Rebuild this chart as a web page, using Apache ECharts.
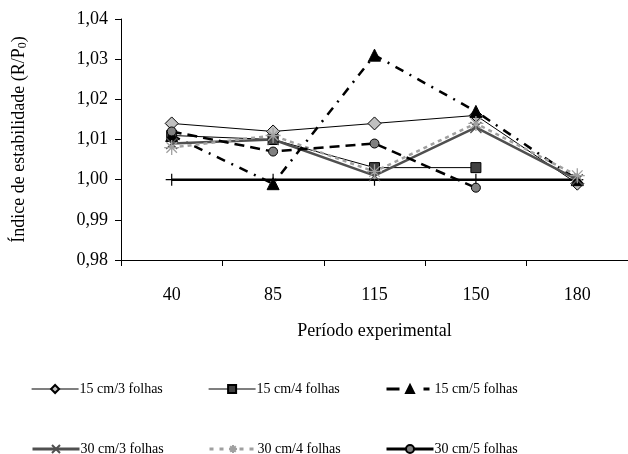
<!DOCTYPE html>
<html>
<head>
<meta charset="utf-8">
<script src="https://cdn.jsdelivr.net/npm/echarts@6/dist/echarts.min.js"></script>
<style>html,body{margin:0;padding:0;background:#fff}#c{width:628px;height:454px}</style>
</head>
<body>
<div id="c"></div>
<script>
const categories = ['40', '85', '115', '150', '180'];
const yTicks = [0.98, 0.99, 1.00, 1.01, 1.02, 1.03, 1.04];
const s15_3 = [1.014, 1.012, 1.014, 1.016, 0.999];
const s15_4 = [1.011, 1.010, 1.003, 1.003, null];
const s15_5 = [1.011, 0.999, 1.031, 1.017, 1.000];
const s30_3 = [1.009, 1.010, 1.001, 1.013, 1.000];
const s30_4 = [1.008, 1.011, 1.002, 1.014, 1.001];
const s30_5 = [1.012, 1.007, 1.009, 0.998, null];
const ref100 = [1.000, 1.000, 1.000, 1.000, 1.000];

const FONT = '"Liberation Serif", "Times New Roman", serif';
const crossPath = 'path://M0,0L10,10M10,0L0,10';
const starPath = 'path://M5,0L5,10M0,5L10,5M1.5,1.5L8.5,8.5M8.5,1.5L1.5,8.5';
const plusPath = 'path://M5,0L5,10M0,5L10,5';

const styles = {
  '15 cm/3 folhas': {
    symbol: 'diamond', symbolSize: 13,
    lineStyle: {color: '#000', width: 1},
    itemStyle: {color: '#c0c0c0', borderColor: '#000', borderWidth: 1},
    legLine: {color: '#000', width: 1.2, type: 'solid'}
  },
  '15 cm/4 folhas': {
    symbol: 'rect', symbolSize: 10,
    lineStyle: {color: '#000', width: 1},
    itemStyle: {color: '#404040', borderColor: '#000', borderWidth: 1},
    legLine: {color: '#000', width: 1.2, type: 'solid'}
  },
  '15 cm/5 folhas': {
    symbol: 'triangle', symbolSize: 12,
    lineStyle: {color: '#000', width: 2.5, type: [9, 7, 2, 7]},
    itemStyle: {color: '#000', borderColor: '#000', borderWidth: 1},
    legLine: {color: '#000', width: 3, type: [13, 24, 6, 10]}
  },
  '30 cm/3 folhas': {
    symbol: crossPath, symbolSize: 11,
    lineStyle: {color: '#505050', width: 2.5},
    itemStyle: {color: '#505050', borderColor: '#505050', borderWidth: 1.3},
    legLine: {color: '#505050', width: 3, type: 'solid'}
  },
  '30 cm/4 folhas': {
    symbol: starPath, symbolSize: 15,
    lineStyle: {color: '#a0a0a0', width: 2.5, type: [4, 4]},
    itemStyle: {color: '#a0a0a0', borderColor: '#a0a0a0', borderWidth: 1.3},
    legLine: {color: '#a0a0a0', width: 3, type: [4, 6]}
  },
  '30 cm/5 folhas': {
    symbol: 'circle', symbolSize: 9,
    lineStyle: {color: '#000', width: 2.5, type: [10, 6]},
    itemStyle: {color: '#808080', borderColor: '#000', borderWidth: 1},
    legLine: {color: '#000', width: 3, type: 'solid'}
  }
};
const dataByName = {
  '15 cm/3 folhas': s15_3, '15 cm/4 folhas': s15_4, '15 cm/5 folhas': s15_5,
  '30 cm/3 folhas': s30_3, '30 cm/4 folhas': s30_4, '30 cm/5 folhas': s30_5
};

const series = [{
  name: 'ref', type: 'line', data: ref100, z: 2,
  symbol: plusPath, symbolSize: 12,
  lineStyle: {color: '#000', width: 2.5},
  itemStyle: {color: '#000', borderColor: '#000', borderWidth: 1.2}
}];
Object.keys(dataByName).forEach(n => {
  const st = styles[n];
  series.push({
    name: n, type: 'line', data: dataByName[n], z: 3, connectNulls: false,
    symbol: st.symbol, symbolSize: st.symbolSize,
    lineStyle: st.lineStyle, itemStyle: st.itemStyle
  });
});

const legendPos = [
  ['15 cm/3 folhas', 31, 382],
  ['15 cm/4 folhas', 208, 382],
  ['15 cm/5 folhas', 385, 382],
  ['30 cm/3 folhas', 31, 442],
  ['30 cm/4 folhas', 208, 442],
  ['30 cm/5 folhas', 385, 442]
];
const legends = legendPos.map(p => ({
  data: [{name: p[0], lineStyle: styles[p[0]].legLine}],
  left: p[1], top: p[2], orient: 'horizontal',
  itemWidth: 47, itemHeight: 10, itemGap: 0, padding: 0,
  textStyle: {fontFamily: FONT, fontSize: 14, color: '#000', padding: [0, 0, 0, -4]},
  selectedMode: false
}));

const chart = echarts.init(document.getElementById('c'), null, {renderer: 'canvas'});
chart.setOption({
  backgroundColor: '#fff',
  animation: false,
  legend: legends,
  grid: {left: 121, top: 19, right: -10, bottom: 194, containLabel: false},
  xAxis: {
    type: 'category', data: categories, boundaryGap: true,
    name: 'Período experimental', nameLocation: 'middle', nameGap: 62,
    nameTextStyle: {fontFamily: FONT, fontSize: 18, color: '#000'},
    axisLine: {lineStyle: {color: '#000', width: 1}},
    axisTick: {show: true, length: 6, lineStyle: {color: '#000'}},
    axisLabel: {fontFamily: FONT, fontSize: 18, color: '#000', margin: 26},
    splitLine: {show: false}
  },
  yAxis: {
    type: 'value', min: yTicks[0], max: yTicks[yTicks.length - 1], interval: 0.01,
    name: 'Índice de estabilidade (R/P{s|0})', nameLocation: 'middle', nameGap: 92,
    nameTextStyle: {fontFamily: FONT, fontSize: 18, color: '#000',
      rich: {s: {fontFamily: FONT, fontSize: 12, color: '#000', verticalAlign: 'bottom', padding: [8, 0, 0, 0]}}},
    axisLine: {show: true, lineStyle: {color: '#000', width: 1}},
    axisTick: {show: true, length: 6, lineStyle: {color: '#000'}},
    axisLabel: {fontFamily: FONT, fontSize: 18, color: '#000', margin: 13,
      formatter: v => v.toFixed(2).replace('.', ',')},
    splitLine: {show: false}
  },
  series: series
});
</script>
</body>
</html>
